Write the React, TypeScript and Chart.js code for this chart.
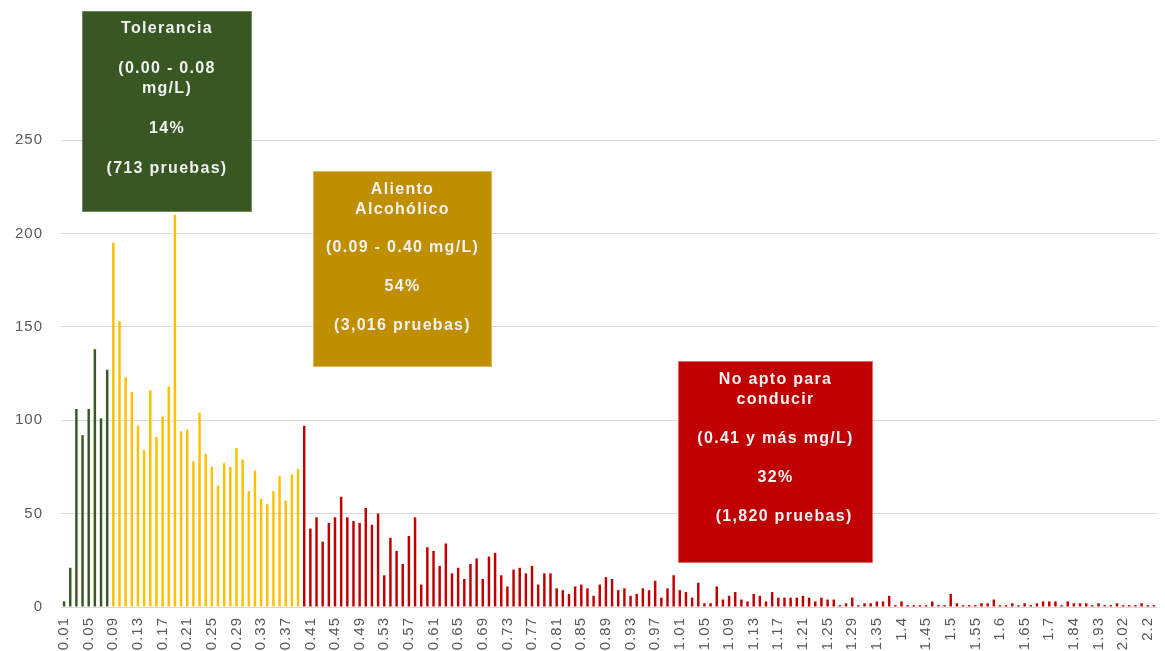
import React, { useEffect, useRef } from "react";
import { Chart, registerables } from "chart.js";

Chart.register(...registerables);

// ---- Data ----
// Regular categories 0.01 .. 1.29 (every hundredth present)
const regularStart = 1; // hundredths
const regularEnd = 129;
const regularCategories: string[] = [];
for (let h = regularStart; h <= regularEnd; h++) regularCategories.push((h / 100).toFixed(2));
// Sparse tail categories
const tailCategories = [
  "1.31", "1.32", "1.33", "1.35", "1.36", "1.37", "1.39", "1.4", "1.41", "1.42", "1.43", "1.45",
  "1.46", "1.47", "1.48", "1.5", "1.51", "1.52", "1.53", "1.55", "1.56", "1.57", "1.58", "1.6",
  "1.61", "1.62", "1.63", "1.65", "1.66", "1.67", "1.68", "1.7", "1.72", "1.75", "1.8", "1.84",
  "1.86", "1.88", "1.9", "1.93", "1.95", "1.98", "2", "2.02", "2.05", "2.1", "2.15", "2.2", "2.3",
];
const categories = [...regularCategories, ...tailCategories];

const toleranciaCounts = [3, 21, 106, 92, 106, 138, 101, 127];
const alientoCounts = [
  195, 153, 123, 115, 97, 84, 116, 91, 102, 118, 210, 94, 95, 78, 104, 82, 75, 65, 77, 75, 85, 79,
  62, 73, 58, 55, 62, 70, 57, 71, 74,
];
const noAptoCounts = [
  97, 42, 48, 35, 45, 48, 59, 48, 46, 45, 53, 44, 50, 17, 37, 30, 23, 38, 48, 12, 32, 30, 22, 34,
  18, 21, 15, 23, 26, 15, 27, 29, 17, 11, 20, 21, 18, 22, 12, 18, 18, 10, 9, 7, 11, 12, 10,
  6, 12, 16, 15, 9, 10, 6, 7, 10, 9, 14, 5, 10, 17, 9, 8, 5, 13, 2, 2, 11, 4, 6, 8, 4, 3, 7, 6,
  3, 8, 5, 5, 5, 5, 6, 5, 3, 5, 4, 4, 1, 2, 5, 1, 2, 2, 3,
  3, 6, 1, 3, 1, 1, 1, 1, 3, 1, 1, 7, 2, 1, 1, 1, 2, 2, 4, 1, 1, 2, 1, 2, 1, 2, 3, 3, 3, 1, 3,
  2, 2, 2, 1, 2, 1, 1, 2, 1, 1, 1, 2, 1, 1,
];

const yTicks = [0, 50, 100, 150, 200, 250];

const boxTexts = {
  tolerancia: ["Tolerancia", "", "(0.00 - 0.08", "mg/L)", "", "14%", "", "(713 pruebas)"],
  aliento: ["Aliento", "Alcohólico", "", "(0.09 - 0.40 mg/L)", "", "54%", "", "(3,016 pruebas)"],
  noApto: ["No apto para", "conducir", "", "(0.41 y más mg/L)", "", "32%", "", "   (1,820 pruebas)"],
};

const COLORS = { green: "#385723", gold: "#BF8F00", yellow: "#FFC000", red: "#C00000" };

const boxes = [
  { x: 82, y: 11, w: 170, h: 201, fill: COLORS.green, stroke: "#6f8a5c", lines: boxTexts.tolerancia, firstY: 29, lh: 20 },
  { x: 313, y: 171, w: 179, h: 196, fill: COLORS.gold, stroke: "#d9b85a", lines: boxTexts.aliento, firstY: 190, lh: 19.3 },
  { x: 678, y: 361, w: 195, h: 202, fill: COLORS.red, stroke: "#e07070", lines: boxTexts.noApto, firstY: 380, lh: 19.5 },
];

export default function App() {
  const ref = useRef<HTMLCanvasElement | null>(null);

  useEffect(() => {
    document.body.style.margin = "0";
    const counts = [...toleranciaCounts, ...alientoCounts, ...noAptoCounts];
    const colors = counts.map((_, i) =>
      i < toleranciaCounts.length
        ? COLORS.green
        : i < toleranciaCounts.length + alientoCounts.length
        ? COLORS.yellow
        : COLORS.red
    );

    const boxPlugin = {
      id: "boxes",
      beforeDraw(chart: any) {
        try {
          (chart.ctx as any).letterSpacing = "1px";
        } catch (e) {}
      },
      afterDraw(chart: any) {
        const ctx = chart.ctx as CanvasRenderingContext2D;
        ctx.save();
        for (const b of boxes) {
          ctx.fillStyle = b.fill;
          ctx.fillRect(b.x, b.y, b.w, b.h);
          ctx.strokeStyle = b.stroke;
          ctx.lineWidth = 1;
          ctx.strokeRect(b.x + 0.5, b.y + 0.5, b.w - 1, b.h - 1);
          ctx.fillStyle = "#f2f2f2";
          ctx.font = "bold 16px 'Liberation Sans', Arial, sans-serif";
          try {
            (ctx as any).letterSpacing = "1.3px";
          } catch (e) {}
          ctx.textAlign = "center";
          ctx.textBaseline = "middle";
          b.lines.forEach((t, i) => {
            if (t) ctx.fillText(t, b.x + b.w / 2, b.firstY + i * b.lh);
          });
        }
        ctx.restore();
      },
    };

    const chart = new Chart(ref.current as HTMLCanvasElement, {
      type: "bar",
      data: {
        labels: categories,
        datasets: [
          {
            data: counts,
            backgroundColor: colors,
            borderWidth: 0,
            barPercentage: 0.4,
            categoryPercentage: 1,
          },
        ],
      },
      options: {
        animation: false,
        responsive: false,
        maintainAspectRatio: false,
        layout: { padding: { top: 140, right: 8, left: 0, bottom: 0 } },
        plugins: { legend: { display: false }, tooltip: { enabled: false } },
        scales: {
          x: {
            grid: { display: false, drawTicks: false },
            border: { display: false },
            ticks: {
              autoSkip: false,
              maxRotation: 90,
              minRotation: 90,
              padding: 10,
              color: "#595959",
              font: { family: "'Liberation Sans', Arial, sans-serif", size: 15 },
              callback: (_v: any, i: number) => (i % 4 === 0 ? categories[i] : null),
            },
            afterFit: (s: any) => {
              s.height = 44;
              s.paddingLeft = 0;
              s.paddingRight = 0;
            },
          },
          y: {
            min: 0,
            max: 250,
            afterBuildTicks: (s: any) => {
              s.ticks = yTicks.map((v) => ({ value: v }));
            },
            grid: { color: "#d9d9d9", lineWidth: 1, drawTicks: false },
            border: { display: false },
            ticks: {
              padding: 18,
              color: "#595959",
              font: { family: "'Liberation Sans', Arial, sans-serif", size: 15 },
            },
            afterFit: (s: any) => {
              s.width = 61;
            },
          },
        },
      },
      plugins: [boxPlugin],
    });
    return () => chart.destroy();
  }, []);

  return (
    <div style={{ width: 1165, height: 651 }}>
      <canvas ref={ref} width={1165} height={651} style={{ display: "block" }} />
    </div>
  );
}
